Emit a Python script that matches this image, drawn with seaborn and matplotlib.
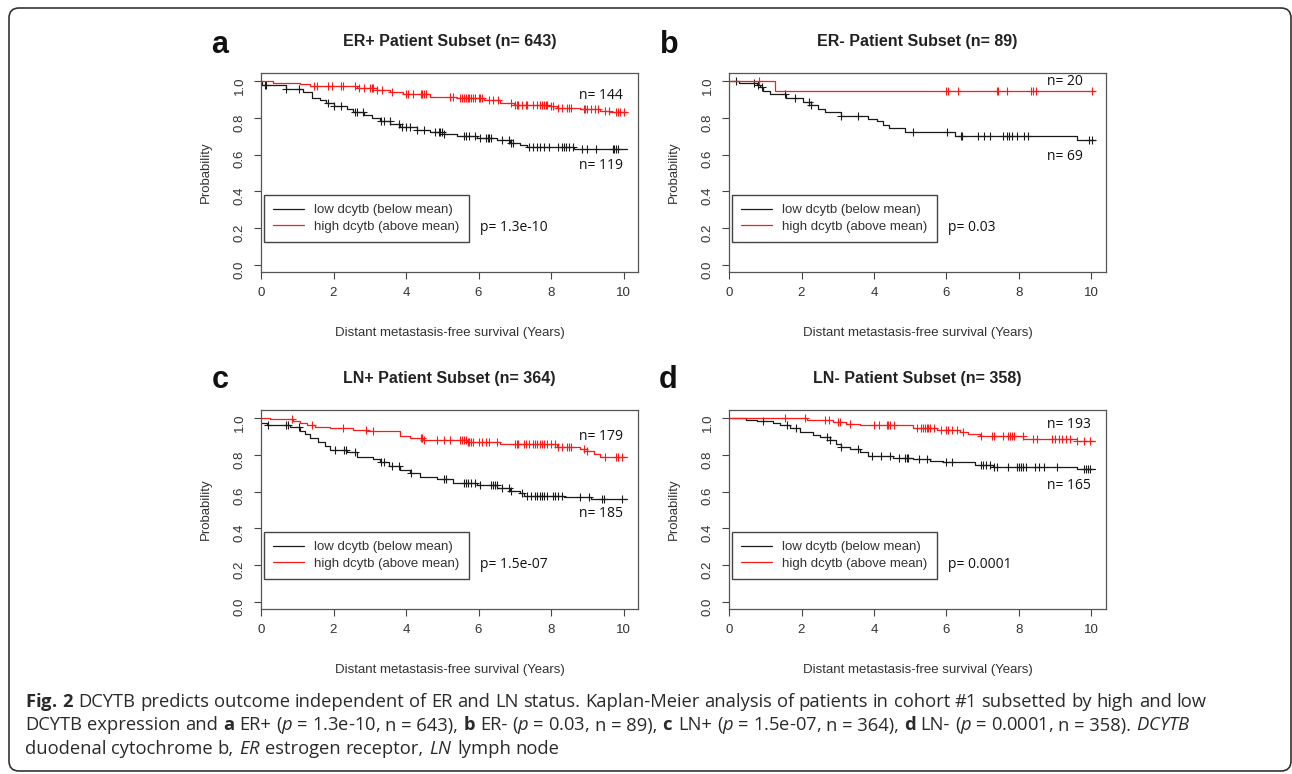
import numpy as np
import pandas as pd
import matplotlib
matplotlib.use("Agg")
import matplotlib.pyplot as plt
from matplotlib.patches import FancyBboxPatch
import seaborn as sns

# ---- Kaplan-Meier steps: time (years) / survival after step ----
# a: ER+
a_low_t = [0, 0.03, 0.7, 1.17, 1.4, 1.63, 1.8, 2.0, 2.37, 2.55, 2.83, 3.06, 3.29, 3.56, 3.84,
           4.3, 4.67, 5.04, 5.4, 5.96, 6.51, 6.88, 7.15, 7.34, 8.63, 10.1]
a_low_s = [1.0, 0.978, 0.96, 0.94, 0.91, 0.897, 0.88, 0.864, 0.851, 0.833, 0.815, 0.80, 0.784,
           0.766, 0.748, 0.734, 0.721, 0.71, 0.70, 0.688, 0.679, 0.665, 0.65, 0.643, 0.632, 0.632]
a_low_cens = [0.1, 0.15, 0.7, 1.05, 1.85, 2.0, 2.2, 2.6, 2.65, 2.8, 3.3, 3.4, 3.55, 3.8, 3.9, 4.0,
              4.1, 4.3, 4.5, 4.8, 4.9, 4.95, 5.0, 5.05, 5.6, 5.65, 5.75, 5.9, 6.05, 6.2, 6.25, 6.3,
              6.35, 6.65, 6.85, 6.9, 6.95, 7.4, 7.5, 7.6, 7.7, 7.8, 7.95, 8.2, 8.3, 8.35, 8.4, 8.5,
              8.6, 8.85, 9.0, 9.25, 9.7, 9.75, 9.8, 9.85]
a_high_t = [0, 0.34, 1.08, 1.35, 2.64, 3.2, 3.56, 3.93, 4.67, 5.4, 6.14, 6.6, 6.97, 7.98, 8.17,
            8.81, 9.36, 9.64, 10.1]
a_high_s = [1.0, 0.993, 0.987, 0.975, 0.964, 0.951, 0.942, 0.929, 0.915, 0.906, 0.897, 0.884,
            0.873, 0.864, 0.855, 0.846, 0.837, 0.83, 0.83]
a_high_cens = [1.45, 1.55, 1.85, 1.95, 2.2, 2.25, 2.6, 2.7, 2.85, 3.0, 3.05, 3.1, 3.2, 3.35, 3.6,
               4.0, 4.05, 4.2, 4.4, 4.45, 4.5, 4.55, 5.2, 5.3, 5.5, 5.55, 5.6, 5.65, 5.7, 5.75, 5.8,
               5.85, 5.9, 6.0, 6.05, 6.1, 6.3, 6.4, 6.55, 6.9, 7.0, 7.05, 7.1, 7.2, 7.3, 7.35, 7.5,
               7.6, 7.7, 7.75, 7.8, 7.85, 7.9, 8.0, 8.05, 8.2, 8.3, 8.45, 8.5, 8.55, 8.9, 8.95, 9.0,
               9.1, 9.2, 9.3, 9.5, 9.6, 9.8, 9.85, 9.9, 10.0]

# b: ER-
b_low_t = [0, 0.28, 0.76, 0.85, 0.94, 1.14, 1.58, 2.04, 2.27, 2.46, 2.64, 3.10, 3.84, 4.09, 4.25,
           4.42, 4.85, 6.23, 9.59, 10.1]
b_low_s = [1.0, 0.991, 0.982, 0.969, 0.949, 0.929, 0.909, 0.889, 0.868, 0.85, 0.83, 0.812, 0.795,
           0.781, 0.764, 0.746, 0.725, 0.703, 0.679, 0.679]
b_low_cens = [0.18, 0.68, 0.8, 0.92, 1.54, 1.81, 2.2, 2.27, 3.1, 3.55, 5.08, 6.02, 6.4, 6.44, 6.88,
              7.03, 7.2, 7.57, 7.66, 7.73, 7.82, 7.94, 8.15, 8.24, 9.92, 10.01]
b_high_t = [0, 1.26, 10.1]
b_high_s = [1.0, 0.949, 0.949]
b_high_cens = [0.83, 6.0, 6.05, 6.31, 7.38, 7.43, 7.66, 8.32, 8.4, 8.47, 10.02]

# c: LN+
c_low_t = [0, 0.16, 0.8, 1.08, 1.2, 1.35, 1.58, 1.77, 1.9, 2.37, 2.64, 3.1, 3.29, 3.52, 3.84, 4.12,
           4.39, 4.85, 5.31, 5.96, 6.51, 6.88, 7.15, 7.25, 8.35, 9.09, 10.1]
c_low_s = [0.975, 0.964, 0.955, 0.933, 0.915, 0.891, 0.873, 0.846, 0.828, 0.815, 0.791, 0.777,
           0.762, 0.74, 0.719, 0.70, 0.682, 0.668, 0.646, 0.635, 0.621, 0.606, 0.592, 0.577, 0.57,
           0.559, 0.559]
c_low_cens = [0.2, 0.7, 0.75, 1.05, 2.05, 2.3, 2.35, 2.6, 3.3, 3.4, 3.6, 3.8, 4.15, 5.05, 5.1, 5.6,
              5.65, 5.7, 5.8, 5.9, 6.05, 6.35, 6.4, 6.45, 6.5, 6.65, 6.85, 6.9, 7.2, 7.35, 7.45,
              7.55, 7.6, 7.7, 7.75, 7.8, 7.9, 8.05, 8.1, 8.2, 8.3, 8.8, 9.05, 9.4, 9.45, 9.95]
c_high_t = [0, 0.25, 0.89, 1.08, 1.26, 1.49, 1.9, 2.55, 2.92, 3.84, 4.12, 4.48, 5.68, 6.6, 8.17,
            8.81, 9.0, 9.18, 9.36, 10.1]
c_high_s = [1.0, 0.995, 0.985, 0.976, 0.964, 0.955, 0.946, 0.936, 0.929, 0.904, 0.893, 0.882,
            0.869, 0.857, 0.842, 0.835, 0.824, 0.806, 0.791, 0.791]
c_high_cens = [0.85, 1.4, 2.25, 2.9, 3.1, 4.4, 4.45, 4.5, 4.85, 5.05, 5.2, 5.5, 5.55, 5.6, 5.65,
               5.7, 5.75, 5.8, 5.85, 6.0, 6.1, 6.2, 6.3, 6.5, 7.0, 7.05, 7.1, 7.25, 7.3, 7.4, 7.5,
               7.55, 7.6, 7.7, 7.75, 7.8, 7.9, 8.0, 8.1, 8.2, 8.3, 8.45, 8.5, 8.55, 8.9, 9.0, 9.5,
               9.8, 9.85, 9.95]

# d: LN-
d_low_t = [0, 0.48, 0.76, 1.22, 1.4, 1.68, 1.95, 2.32, 2.5, 2.78, 2.96, 3.1, 3.33, 3.61, 3.84,
           4.53, 5.08, 5.54, 5.91, 6.79, 7.29, 9.59, 10.1]
d_low_s = [1.0, 0.993, 0.985, 0.973, 0.962, 0.949, 0.927, 0.909, 0.898, 0.88, 0.862, 0.844, 0.831,
           0.818, 0.796, 0.785, 0.776, 0.767, 0.76, 0.745, 0.735, 0.724, 0.724]
d_low_cens = [0.95, 1.6, 1.85, 2.7, 2.8, 3.1, 3.55, 3.95, 4.2, 4.45, 4.7, 4.85, 4.9, 4.95, 5.25,
              5.45, 6.0, 6.15, 6.95, 7.0, 7.1, 7.2, 7.3, 7.4, 7.7, 7.95, 8.0, 8.05, 8.1, 8.2, 8.45,
              8.55, 8.7, 9.05, 9.8, 9.85, 9.9, 9.95]
d_high_t = [0, 2.14, 2.87, 3.24, 3.61, 5.08, 5.73, 6.37, 6.6, 6.92, 8.12, 9.59, 10.1]
d_high_s = [1.0, 0.989, 0.98, 0.971, 0.962, 0.949, 0.938, 0.927, 0.913, 0.902, 0.887, 0.875, 0.875]
d_high_cens = [1.55, 2.1, 2.65, 2.75, 3.0, 3.05, 3.35, 4.0, 4.15, 4.35, 4.4, 4.45, 4.55, 5.2, 5.3,
               5.35, 5.4, 5.45, 5.5, 5.55, 5.65, 5.85, 6.0, 6.05, 6.15, 6.3, 6.45, 6.95, 7.25, 7.3,
               7.55, 7.7, 7.75, 7.8, 7.85, 8.1, 8.4, 8.5, 8.9, 9.0, 9.1, 9.2, 9.3, 9.4, 9.6, 9.8,
               9.95]

# ---- Panel texts ----
letters = ["a", "b", "c", "d"]
titles = ["ER+ Patient Subset (n= 643)", "ER- Patient Subset (n= 89)",
          "LN+ Patient Subset (n= 364)", "LN- Patient Subset (n= 358)"]
n_high_labels = ["n= 144", "n= 20", "n= 179", "n= 193"]
n_low_labels = ["n= 119", "n= 69", "n= 185", "n= 165"]
p_labels = ["p= 1.3e-10", "p= 0.03", "p= 1.5e-07", "p= 0.0001"]
low_label = "low dcytb (below mean)"
high_label = "high dcytb (above mean)"

curves = [
    ((a_low_t, a_low_s, a_low_cens), (a_high_t, a_high_s, a_high_cens)),
    ((b_low_t, b_low_s, b_low_cens), (b_high_t, b_high_s, b_high_cens)),
    ((c_low_t, c_low_s, c_low_cens), (c_high_t, c_high_s, c_high_cens)),
    ((d_low_t, d_low_s, d_low_cens), (d_high_t, d_high_s, d_high_cens)),
]

# caption, word by word
cap_line1 = [r"$\mathbf{Fig.}$", r"$\mathbf{2}$", "DCYTB", "predicts", "outcome", "independent",
             "of", "ER", "and", "LN", "status.", "Kaplan-Meier", "analysis", "of", "patients", "in",
             "cohort", "#1", "subsetted", "by", "high", "and", "low"]
cap_line2 = ["DCYTB", "expression", "and", r"$\mathbf{a}$", "ER+", r"($\mathit{p}$ = 1.3e-10,",
             "n = 643),", r"$\mathbf{b}$", "ER-", r"($\mathit{p}$ = 0.03,", "n = 89),",
             r"$\mathbf{c}$", "LN+", r"($\mathit{p}$ = 1.5e-07,", "n = 364),", r"$\mathbf{d}$",
             "LN-", r"($\mathit{p}$ = 0.0001,", "n = 358).", r"$\mathit{DCYTB}$"]
cap_line3 = ["duodenal", "cytochrome", "b,", r"$\mathit{ER}$", "estrogen", "receptor,",
             r"$\mathit{LN}$", "lymph", "node"]

# layout bits (data coords for the in-plot labels)
n_high_y = [0.92, 0.996, 0.90, 0.967]
n_low_y = [0.54, 0.589, 0.479, 0.635]


def km_frames(times, surv, cens):
    line = pd.DataFrame({"time": times, "surv": surv})
    idx = np.searchsorted(times, cens, side="right") - 1
    marks = pd.DataFrame({"time": cens, "surv": np.asarray(surv)[idx]})
    return line, marks


sns.set_style("white")
plt.rcParams["font.family"] = ["Liberation Sans", "DejaVu Sans"]
plt.rcParams["mathtext.fontset"] = "custom"
plt.rcParams["mathtext.rm"] = "Open Sans"
plt.rcParams["mathtext.it"] = "Open Sans:italic"
plt.rcParams["mathtext.bf"] = "Open Sans:bold"

W, H = 1292, 774
fig = plt.figure(figsize=(W / 100, H / 100), dpi=100)

# axes boxes in pixels: left, top, right, bottom
boxes = [(261, 73, 638, 272), (729, 73, 1106, 272),
         (261, 410, 638, 609), (729, 410, 1106, 609)]
letter_pos = [(220, 53), (669, 53), (220, 388), (668, 388)]

grey = "#444444"
for i, (l, t, r, b) in enumerate(boxes):
    ax = fig.add_axes([l / W, 1 - b / H, (r - l) / W, (b - t) / H])
    (low, high) = curves[i]
    for (ts, ss, cs), col, lab in [(low, "#1a1a1a", low_label), (high, "#ff1a1a", high_label)]:
        line, marks = km_frames(ts, ss, cs)
        sns.lineplot(data=line, x="time", y="surv", drawstyle="steps-post", estimator=None,
                     sort=False, color=col, lw=0.9, label=lab, ax=ax, legend=False)
        sns.scatterplot(data=marks, x="time", y="surv", marker="+", s=38, linewidth=0.8,
                        color=col, ax=ax, legend=False)

    ax.set_xlim(0, 10.4)
    ax.set_ylim(-0.04, 1.045)
    ax.set_xticks(range(0, 11, 2))
    ax.set_yticks(np.arange(0, 1.01, 0.2))
    ax.set_yticklabels([f"{v:.1f}" for v in np.arange(0, 1.01, 0.2)])
    ax.tick_params(bottom=True, left=True, direction="out", length=5, width=0.8, color=grey,
                   labelsize=9.5, labelcolor="#333333", pad=6)
    ax.tick_params(axis="y", labelrotation=90)
    for sp in ax.spines.values():
        sp.set_visible(True)
        sp.set_color("#555555")
        sp.set_linewidth(0.9)

    ax.set_xlabel("Distant metastasis-free survival (Years)", fontsize=9.5, color="#333333")
    ax.set_ylabel("Probability", fontsize=9.5, color="#333333")
    ax.xaxis.set_label_coords(0.5, -0.275)
    ax.yaxis.set_label_coords(-0.13, 0.5)

    ax.text(0.5, 1.16, titles[i], transform=ax.transAxes, ha="center", va="center",
            fontsize=11.5, fontweight="bold", color="#222222")

    leg = ax.legend(loc="upper left", bbox_to_anchor=(0.008, 0.387), borderaxespad=0,
                    frameon=True, fancybox=False, framealpha=1, edgecolor=grey, fontsize=9.5,
                    handlelength=2.3, handletextpad=0.8, borderpad=0.7, labelspacing=0.3)
    leg.get_frame().set_linewidth(1.0)
    for txt in leg.get_texts():
        txt.set_color("#333333")

    ax.text(8.77, n_high_y[i], n_high_labels[i], family="Open Sans", fontsize=10,
            ha="left", va="center", color="#111111")
    ax.text(8.77, n_low_y[i], n_low_labels[i], family="Open Sans", fontsize=10,
            ha="left", va="center", color="#111111")
    ax.text(6.05, 0.2, p_labels[i], family="Open Sans", fontsize=10,
            ha="left", va="center", color="#111111")

    lx, ly = letter_pos[i]
    fig.text(lx / W, 1 - ly / H, letters[i], ha="center", va="baseline",
             fontsize=22, fontweight="bold", color="#111111")

# ---- Caption: lay words out one by one ----
renderer = fig.canvas.get_renderer()
cap_size = 13.2
cap_left = 25
space_px = 0.26 * cap_size * 100 / 72
for k, words in enumerate([cap_line1, cap_line2, cap_line3]):
    y = 1 - (707 + 23.5 * k) / H
    x = cap_left
    for w in words:
        item = fig.text(x / W, y, w, family="Open Sans", fontsize=cap_size, ha="left",
                        va="baseline", color="#2a2a2a")
        x += item.get_window_extent(renderer).width + space_px

# rounded outer frame
frame = FancyBboxPatch((0.09, 0.03), 12.82, 7.63, boxstyle="round,pad=0,rounding_size=0.1",
                       transform=fig.dpi_scale_trans, fill=False, edgecolor="#333333",
                       linewidth=1.2)
fig.patches.append(frame)

fig.savefig("out.png", dpi=100)
